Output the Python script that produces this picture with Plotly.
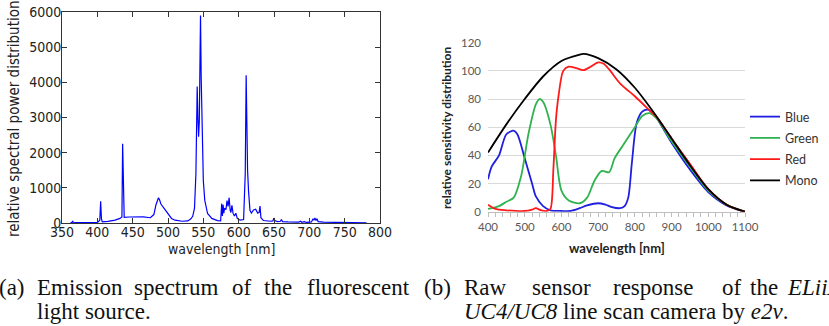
import plotly.graph_objects as go

W, H = 829, 326

# ---------------- data: (a) emission spectrum ----------------
spec_nm = [362, 364, 365, 366, 368, 380, 400, 403.5, 404.7, 405.8, 407, 415, 425, 432, 434.8,
           435.8, 436.8, 438, 445, 455, 465, 475, 480, 483, 486.5, 488, 490, 495, 500, 505,
           510, 520, 528, 532, 535, 537.5, 539.5, 541.3, 542.2, 543.3, 544.3, 546, 547,
           548.5, 550, 552, 556, 562, 570, 574.5, 576, 577, 578, 579, 580, 582, 583.5,
           585, 586.5, 588, 589, 590.5, 592, 594, 596, 598, 602, 607, 609.3, 610.6, 611.6,
           612.6, 614, 616, 618, 621, 624, 627, 629, 630.2, 631.5, 635, 645, 648.5, 649.7,
           651, 655, 659, 660.5, 662, 670, 685, 687.5, 689.5, 693, 694.5, 696, 703, 705.3,
           706.5, 708, 709.5, 710.8, 712.5, 720, 740, 760, 781]
spec_val = [10, 15, 60, 15, 8, 8, 12, 80, 620, 120, 30, 45, 80, 130, 170,
            2250, 420, 160, 170, 180, 175, 150, 240, 520, 720, 660, 540, 400, 250, 130,
            80, 50, 60, 110, 190, 420, 1400, 3880, 3050, 2450, 2900, 5900, 4100,
            2200, 1200, 650, 270, 130, 70, 60, 550, 200, 520, 280, 420, 380, 640,
            470, 720, 360, 300, 500, 280, 200, 280, 130, 80, 100, 1400, 4200, 2600,
            1500, 900, 360, 280, 370, 390, 280, 300, 480, 150, 70, 50, 60, 140,
            70, 40, 50, 100, 40, 30, 25, 50, 20, 40, 15, 15, 30, 120,
            80, 140, 70, 120, 40, 25, 15, 10, 5]

# ---------------- data: (b) sensor response ----------------
mono_nm = [400, 450, 500, 550, 600, 650, 660, 700, 750, 800, 850, 900, 950, 1000, 1050, 1100]
mono_val = [42, 62, 80, 96, 107, 111.5, 112, 109, 101, 88, 71, 52, 33, 16, 5, 0]

blue_nm = [400, 410, 430, 450, 470, 480, 500, 520, 530, 550, 570, 600, 625, 650, 670, 700,
           720, 735, 760, 772, 782, 792, 805, 820, 835, 850, 900, 950, 1000, 1050, 1100]
blue_val = [23, 32, 40, 55, 57.5, 55, 38, 20, 11, 4, 1, 0.5, 0.5, 2.5, 4.5, 6,
            5, 3.5, 2.5, 4, 10, 35, 63, 71, 72.5, 70, 49, 30, 14, 4.5, 0]

green_nm = [400, 430, 450, 470, 490, 510, 530, 540, 550, 570, 585, 600, 620, 650, 670, 690,
            710, 730, 745, 770, 800, 820, 840, 860, 900, 950, 1000, 1050, 1100]
green_val = [2, 4, 7, 10, 25, 55, 76, 80, 78, 62, 40, 15, 8, 6, 10, 22,
             29, 28, 38, 48, 60, 68, 70, 66, 50, 32, 15, 5, 0]

red_nm = [400, 420, 450, 500, 520, 530, 545, 560, 570, 578, 585, 592, 605, 620, 640, 660,
          680, 700, 715, 730, 760, 800, 840, 860, 900, 950, 1000, 1050, 1100]
red_val = [5, 2, 1, 0.5, 1.5, 2.5, 1, 0.5, 2, 30, 65, 82, 100, 103, 102, 100.5,
           103, 106, 105, 101, 91, 82, 72, 67, 52, 34, 16, 5, 0]

series_names = ["Blue", "Green", "Red", "Mono"]
series_colors = ["#1f1fe0", "#2eb34f", "#ff1a1a", "#000000"]

# ---------------- figure ----------------
fig = go.Figure()

fig.add_trace(go.Scatter(x=spec_nm, y=spec_val, mode="lines",
                         line=dict(color="#0000ff", width=1.2),
                         xaxis="x", yaxis="y", showlegend=False))

for name, color, xs, ys in zip(series_names, series_colors,
                               [blue_nm, green_nm, red_nm, mono_nm],
                               [blue_val, green_val, red_val, mono_val]):
    fig.add_trace(go.Scatter(x=xs, y=ys, mode="lines", name=name, legendgroup=name,
                             line=dict(color=color, width=1.8, shape="spline", smoothing=0.8),
                             xaxis="x2", yaxis="y2"))

def px(x):
    return x / W

def py(y):
    return 1 - y / H

mpl_font = dict(family="DejaVu Sans Condensed, Liberation Sans Narrow, DejaVu Sans",
                size=14, color="#222222")
xl_font = dict(family="Lato, Open Sans, sans-serif", size=11.5, color="#595959")

fig.update_layout(
    width=W, height=H, margin=dict(l=0, r=0, t=0, b=0, autoexpand=False),
    paper_bgcolor="white", plot_bgcolor="white",
    xaxis=dict(domain=[px(62), px(380)], range=[350, 800], dtick=50, tick0=350,
               showgrid=False, zeroline=False, showline=True, linecolor="#333333",
               linewidth=1, mirror="ticks", ticks="inside", ticklen=5,
               tickcolor="#333333", tickfont=mpl_font, anchor="y", automargin=False,
               ticklabelstandoff=-4),
    yaxis=dict(domain=[py(223), py(12)], range=[0, 6000], dtick=1000,
               showgrid=False, zeroline=False, showline=True, linecolor="#333333",
               linewidth=1, mirror="ticks", ticks="inside", ticklen=5,
               tickcolor="#333333", tickfont=mpl_font, anchor="x", automargin=False,
               ticklabelstandoff=-3),
    xaxis2=dict(domain=[px(488), px(745)], range=[400, 1100], dtick=100, tick0=400,
                showgrid=False, zeroline=False, showline=True, linecolor="#bfbfbf",
                linewidth=1, ticks="outside", ticklen=4, tickcolor="#bfbfbf",
                minor=dict(dtick=20, ticks="outside", ticklen=4, tickcolor="#bfbfbf"),
                tickfont=xl_font, anchor="y2", automargin=False),
    yaxis2=dict(domain=[py(211.7), py(42.7)], range=[0, 120], dtick=20,
                showgrid=True, gridcolor="#d9d9d9", gridwidth=1, zeroline=False,
                showline=False, ticks="", ticklabelstandoff=6,
                tickfont=xl_font, anchor="x2", automargin=False),
    legend=dict(x=px(745), y=py(102), xanchor="left", yanchor="top",
                font=dict(family="Lato, Open Sans, sans-serif", size=12.5, color="#333333"),
                itemwidth=30, tracegroupgap=2, bgcolor="rgba(0,0,0,0)"),
)

annotations = [
    dict(text="relative spectral power distribution", x=px(14), y=py(119), textangle=-90,
         font=dict(mpl_font, size=15)),
    dict(text="wavelength [nm]", x=px(221), y=py(248.5), font=mpl_font),
    dict(text="<b>relative sensitivity distribution</b>", x=px(447), y=py(128), textangle=-90,
         font=dict(family="Lato, Open Sans, sans-serif", size=12, color="#222222")),
    dict(text="<b>wavelength [nm]</b>", x=px(617), y=py(248),
         font=dict(family="Lato, Open Sans, sans-serif", size=13, color="#222222")),
]

cap_font = dict(family="Liberation Serif, DejaVu Serif, serif", size=23, color="#111111")
cap1 = [("(a)", -3), ("Emission", 35), ("spectrum", 132), ("of", 230), ("the", 262),
        ("fluorescent", 305)]
for word, x in cap1:
    annotations.append(dict(text=word, x=px(x), y=py(287), xanchor="left", font=cap_font))
annotations.append(dict(text="light source.", x=px(35), y=py(311), xanchor="left", font=cap_font))

cap2 = [("(b)", 422), ("Raw", 462), ("sensor", 530), ("response", 611), ("of", 720),
        ("the", 748), ("<i>ELiiXA</i>", 785)]
for word, x in cap2:
    annotations.append(dict(text=word, x=px(x), y=py(287), xanchor="left", font=cap_font))
annotations.append(dict(text="<i>UC4/UC8</i> line scan camera by <i>e2v</i>.", x=px(462),
                        y=py(311), xanchor="left", font=cap_font))

for a in annotations:
    a.setdefault("xref", "paper")
    a.setdefault("yref", "paper")
    a.setdefault("showarrow", False)
    a.setdefault("xanchor", "center")
    a.setdefault("yanchor", "middle")
fig.update_layout(annotations=annotations)

fig.write_html("out.html", config={"displayModeBar": False},
               post_script="document.body.style.margin='0';document.body.style.overflow='hidden';")
